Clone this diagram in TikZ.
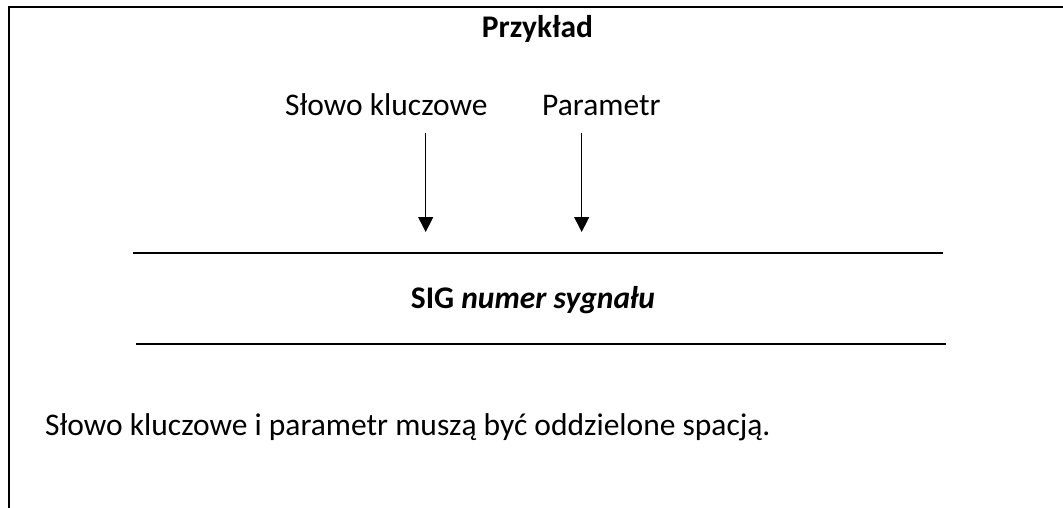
\documentclass[tikz,border=0pt]{standalone}
\usepackage{fontspec}
\setmainfont{Carlito}
\usetikzlibrary{arrows.meta}
\begin{document}
\begin{tikzpicture}[x=1pt,y=-1pt,
  txt/.style={inner sep=0pt,anchor=base west,font=\fontsize{31.5}{36}\selectfont},
  rule/.style={line width=2pt},
  frame/.style={line width=1.7pt},
  pointer/.style={line width=1pt,-{Triangle[length=15pt,width=15pt]}}]
  \useasboundingbox (0,0) rectangle (1063,508);
  % open frame: top and left edges only
  \draw[frame] (9,508) -- (9,7) -- (1063,7);
  % heading
  \node[txt,anchor=base] (title) at (537.5,37.5) {\textbf{Przykład}};
  % labels above the command
  \node[txt] (kw) at (285,116) {Słowo kluczowe};
  \node[txt] (par) at (542,116) {Parametr};
  \coordinate (kwstart) at (425.7,133);
  \coordinate (kwend) at (425.7,232);
  \coordinate (parstart) at (581.7,133);
  \coordinate (parend) at (581.7,232);
  \draw[pointer] (kwstart) -- (kwend);
  \draw[pointer] (parstart) -- (parend);
  % command between two rules
  \coordinate (r1a) at (133,252.7);
  \coordinate (r1b) at (943,252.7);
  \coordinate (r2a) at (136,344.3);
  \coordinate (r2b) at (946,344.3);
  \draw[rule] (r1a) -- (r1b);
  \draw[rule] (r2a) -- (r2b);
  \node[txt,anchor=base] (cmd) at (533,308) {\textbf{SIG \textit{numer sygnału}}};
  % note
  \node[txt] (note) at (45,435) {Słowo kluczowe i parametr muszą być oddzielone spacją.};
\end{tikzpicture}
\end{document}
